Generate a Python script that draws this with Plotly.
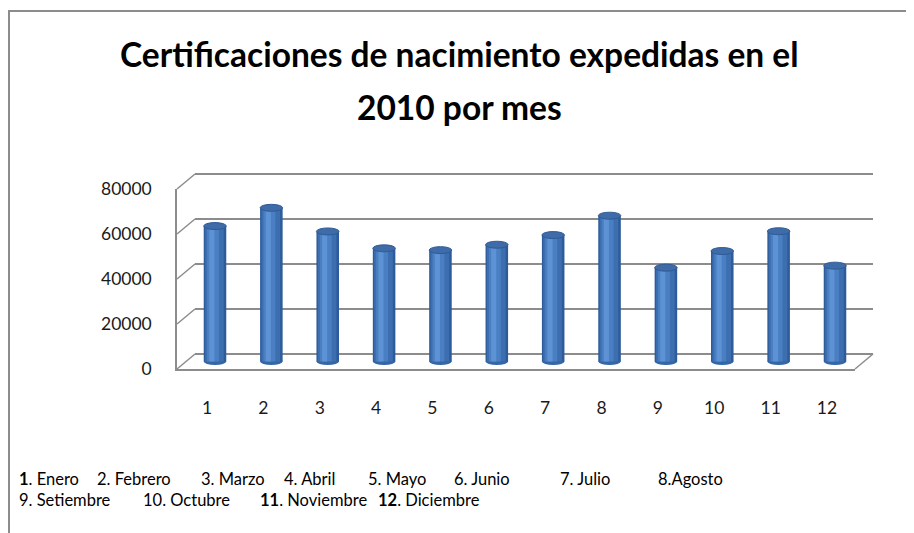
import plotly.graph_objects as go

# ---- data ----
months = list(range(1, 13))
tick_labels = [str(m) for m in months]
values = [60200, 68300, 57800, 50300, 49500, 51900, 56200, 64800, 41700, 49100, 57900, 42600]
y_ticks = [0, 20000, 40000, 60000, 80000]
legend_row1 = ["<b>1</b>. Enero", "2. Febrero", "3. Marzo", "4. Abril", "5. Mayo", "6. Junio", "7. Julio", "8.Agosto"]
legend_row2 = ["9. Setiembre", "10. Octubre", "<b>11</b>. Noviembre", "<b>12</b>. Diciembre"]
title_lines = ["Certificaciones de nacimiento expedidas en el", "2010 por mes"]

# ---- layout geometry (pixels; page body offset compensated) ----
W, H = 914, 533
OX, OY = 8, 8
def fx(px): return (px - OX) / W
def fy(py): return 1 - (py - OY) / H

K = 180 / 80000            # px per unit
FRONT_L, FRONT_R, FRONT_0 = 177, 855, 369
BACK_L, BACK_R, BACK_0 = 195, 873, 354
MID_0 = 361.5
YMIN = -8000
B1, B12 = 215, 835
S = (B12 - B1) / 11

FONT = "Lato"
GRID = "#8c8c8c"

fig = go.Figure()

# back wall (subplot xy) -- drawn first
fig.add_trace(go.Scatter(x=[0], y=[None], xaxis="x", yaxis="y", showlegend=False, hoverinfo="skip"))
# front axis (subplot x2y2)
fig.add_trace(go.Scatter(x=[0], y=[None], xaxis="x2", yaxis="y2", showlegend=False, hoverinfo="skip"))

# cylinders (subplot x3y3), layered bars for shading
layers = [(-0.20, 0.40, "#2e5c9a"), (-0.175, 0.33, "#3c6eb0"), (-0.14, 0.21, "#4a80c3"), (-0.10, 0.09, "#5d93d4")]
for off, wd, col in layers:
    fig.add_trace(go.Bar(x=months, y=values, xaxis="x3", yaxis="y3", offset=off, width=wd,
                         marker=dict(color=col, line=dict(width=0)), showlegend=False, hoverinfo="skip"))

shapes = []
for m, v in zip(months, values):
    shapes.append(dict(type="circle", xref="x3", yref="y3", x0=m - 0.20, x1=m + 0.20,
                       y0=-1500, y1=1500, fillcolor="#3566a6", line=dict(width=0), layer="below"))
    shapes.append(dict(type="circle", xref="x3", yref="y3", x0=m - 0.20, x1=m + 0.20,
                       y0=v - 1550, y1=v + 1550, fillcolor="#3f6ca8", line=dict(color="#2e5b96", width=1),
                       layer="above"))

# side wall diagonals and floor right edge
for v in y_ticks:
    shapes.append(dict(type="line", xref="paper", yref="paper",
                       x0=fx(FRONT_L), y0=fy(FRONT_0 - v * K), x1=fx(BACK_L), y1=fy(BACK_0 - v * K),
                       line=dict(color=GRID, width=1.5), layer="below"))
shapes.append(dict(type="line", xref="paper", yref="paper",
                   x0=fx(FRONT_R), y0=fy(FRONT_0), x1=fx(BACK_R), y1=fy(BACK_0),
                   line=dict(color=GRID, width=1.5), layer="below"))
# chart border
shapes.append(dict(type="rect", xref="paper", yref="paper", x0=fx(9), y0=fy(600), x1=fx(960), y1=fy(11),
                   line=dict(color="#8c8c8c", width=2), fillcolor="rgba(0,0,0,0)", layer="below"))

annotations = []
for txt, py in zip(title_lines, [54, 107]):
    annotations.append(dict(text=txt, x=fx(459), y=fy(py), xref="paper", yref="paper",
                            xanchor="center", yanchor="middle", showarrow=False,
                            font=dict(family=FONT, size=33.5, color="#000000", weight=700)))
row1_x = [17, 95, 199, 282, 366, 452, 558, 656]
row2_x = [17, 141, 258, 376]
for txt, px in zip(legend_row1, row1_x):
    annotations.append(dict(text=txt, x=fx(px), y=fy(479), xref="paper", yref="paper",
                            xanchor="left", yanchor="middle", showarrow=False,
                            font=dict(family=FONT, size=16.5, color="#000000")))
for txt, px in zip(legend_row2, row2_x):
    annotations.append(dict(text=txt, x=fx(px), y=fy(500), xref="paper", yref="paper",
                            xanchor="left", yanchor="middle", showarrow=False,
                            font=dict(family=FONT, size=16.5, color="#000000")))

back_pad = 2000
fig.update_layout(
    width=W, height=H,
    margin=dict(l=0, r=0, t=0, b=0, pad=0, autoexpand=False),
    paper_bgcolor="white", plot_bgcolor="rgba(0,0,0,0)",
    barmode="overlay",
    showlegend=False,
    shapes=shapes, annotations=annotations,
    # back wall
    xaxis=dict(domain=[fx(BACK_L), fx(BACK_R)], range=[0, 1], visible=False, fixedrange=True,
               automargin=False),
    yaxis=dict(domain=[fy(BACK_0 + back_pad * K), fy(BACK_0 - (80000 + back_pad) * K)],
               range=[-back_pad, 80000 + back_pad], anchor="x", tickvals=y_ticks,
               showgrid=True, gridcolor=GRID, gridwidth=1.5, zeroline=False,
               showticklabels=False, showline=False, ticks="", automargin=False),
    # front axis with labels
    xaxis2=dict(domain=[fx(FRONT_L), fx(FRONT_R)], range=[0, 1], anchor="y2",
                showline=True, linecolor=GRID, linewidth=1.5, showgrid=False, zeroline=False,
                showticklabels=False, ticks="", automargin=False),
    yaxis2=dict(domain=[fy(FRONT_0), fy(FRONT_0 - 80000 * K)], range=[0, 80000], anchor="x2",
                tickvals=y_ticks, ticktext=[str(v) for v in y_ticks],
                showline=True, linecolor=GRID, linewidth=1.5, showgrid=False, zeroline=False,
                ticks="", ticklabelstandoff=20, automargin=False,
                tickfont=dict(family=FONT, size=17.5, color="#1a1a1a")),
    # cylinders
    xaxis3=dict(domain=[fx(FRONT_L), fx(BACK_R)],
                range=[1 - (B1 - FRONT_L) / S, 12 + (BACK_R - B12) / S], anchor="y3",
                tickvals=months, ticktext=tick_labels, showline=False, showgrid=False, zeroline=False,
                ticks="", ticklabelshift=-8, ticklabelstandoff=16, automargin=False,
                tickfont=dict(family=FONT, size=17.5, color="#1a1a1a")),
    yaxis3=dict(domain=[fy(MID_0 - YMIN * K), fy(MID_0 - 80000 * K)], range=[YMIN, 80000],
                anchor="x3", visible=False, automargin=False),
)

fig.write_html("out.html")
